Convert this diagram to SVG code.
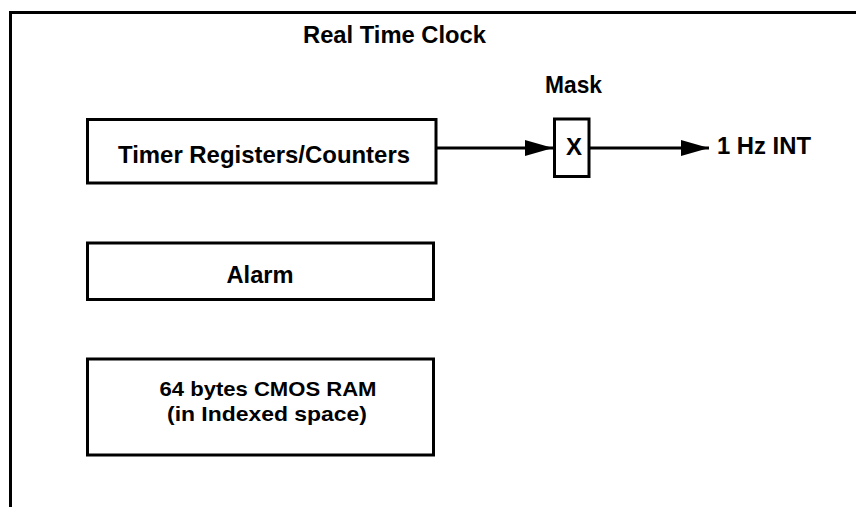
<svg xmlns="http://www.w3.org/2000/svg" width="856" height="507" viewBox="0 0 856 507">
<style>
.box{fill:#fff;stroke:#000;stroke-width:3}
.t{font-family:"Liberation Sans",Arial,sans-serif;font-weight:bold;font-size:24px;fill:#000;text-anchor:middle}
.s{font-size:21px}
.ln{stroke:#000;stroke-width:3;fill:none}
</style>
<defs>
<marker id="ah" markerUnits="userSpaceOnUse" markerWidth="29" markerHeight="17" refX="28" refY="8.5" orient="auto">
<path d="M0,0.5 L28,8.5 L0,16.5 Z" fill="#000"/>
</marker>
</defs>
<rect width="856" height="507" fill="#fff"/>
<g id="frame">
<path class="ln" d="M10.5,507 L10.5,12.5 L856,12.5"/>
<text class="t" x="394.5" y="43" textLength="183" lengthAdjust="spacingAndGlyphs">Real Time Clock</text>
</g>
<g id="timer">
<rect class="box" x="87.5" y="119.5" width="348.5" height="63.5"/>
<text class="t" x="264" y="163" textLength="292" lengthAdjust="spacingAndGlyphs">Timer Registers/Counters</text>
</g>
<g id="alarm">
<rect class="box" x="87.5" y="243" width="346" height="56.5"/>
<text class="t" x="260" y="283" textLength="67" lengthAdjust="spacingAndGlyphs">Alarm</text>
</g>
<g id="cmos">
<rect class="box" x="87.5" y="359" width="346" height="96"/>
<text class="t s" x="268" y="395.5" textLength="217" lengthAdjust="spacingAndGlyphs">64 bytes CMOS RAM</text>
<text class="t s" x="267" y="420.5" textLength="200" lengthAdjust="spacingAndGlyphs">(in Indexed space)</text>
</g>
<g id="mask">
<text class="t" x="573.5" y="93" textLength="57" lengthAdjust="spacingAndGlyphs">Mask</text>
<rect class="box" x="554.5" y="119" width="34.5" height="57.5"/>
<text class="t" x="574" y="155" font-size="22">X</text>
</g>
<g id="out">
<text class="t" x="717" y="153.5" style="text-anchor:start" textLength="94" lengthAdjust="spacingAndGlyphs">1 Hz INT</text>
</g>
<g id="connectors">
<line class="ln" x1="436" y1="148" x2="553" y2="148" marker-end="url(#ah)"/>
<line class="ln" x1="589" y1="148" x2="709" y2="148" marker-end="url(#ah)"/>
</g>
</svg>
